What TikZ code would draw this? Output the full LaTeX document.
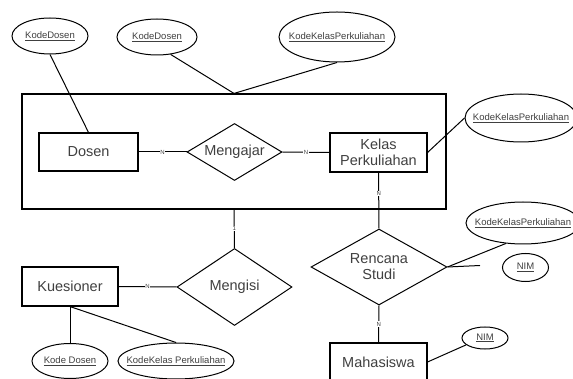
\documentclass[tikz,border=0pt]{standalone}
\usepackage{fontspec}
\setmainfont{Liberation Sans}
\usetikzlibrary{shapes.geometric}
\begin{document}
\begin{tikzpicture}[x=1pt,y=-1pt,
  every node/.style={text=black!75},
  entity/.style={draw=black,line width=1.1pt,rectangle,inner sep=0pt,font=\fontsize{14.5}{16}\selectfont,align=center},
  rel/.style={draw=black,line width=1pt,diamond,inner sep=0pt,font=\fontsize{14.5}{16}\selectfont,align=center},
  attr/.style={draw=black,line width=1pt,ellipse,inner sep=0pt,font=\fontsize{9.5}{11}\selectfont},
  longattr/.style={attr,inner xsep=-10pt},
  conn/.style={draw=black,line width=1pt},
  card/.style={fill=white,inner sep=0.5pt,font=\fontsize{6}{7}\selectfont}]
\clip (0,0) rectangle (573,379);
\fill[white] (0,0) rectangle (573,379);
% aggregation box
\node[draw=black,line width=1.1pt,rectangle,minimum width=424pt,minimum height=115pt,inner sep=0pt] (agg) at (234,151.5) {};
% entities
\node[entity,minimum width=99pt,minimum height=38pt] (dosen) at (88.5,152) {Dosen};
\node[entity,minimum width=97pt,minimum height=39pt] (kelas) at (378.5,152.5) {Kelas\\Perkuliahan};
\node[entity,minimum width=96pt,minimum height=39pt] (kues) at (70,286.5) {Kuesioner};
\node[entity,minimum width=97pt,minimum height=50pt] (mhs) at (378.5,368) {};
\node[text=black!75,font=\fontsize{14.5}{16}\selectfont] (mhst) at (378.5,362) {Mahasiswa};
% relationships
\node[rel,minimum width=95pt,minimum height=57pt,shape aspect=1.67] (ajar) at (234.5,152) {Mengajar};
\node[rel,minimum width=136pt,minimum height=76pt,shape aspect=1.79] (rs) at (379,267) {Rencana\\Studi};
\node[rel,minimum width=115pt,minimum height=77pt,shape aspect=1.49] (isi) at (234.5,287) {Mengisi};
% attributes
\node[attr,minimum width=76pt,minimum height=36pt] (a1) at (50,36) {\underline{KodeDosen}};
\node[attr,minimum width=80pt,minimum height=36pt] (a2) at (157,37) {\underline{KodeDosen}};
\node[longattr,minimum width=116pt,minimum height=50pt] (a3) at (337,37) {\underline{KodeKelasPerkuliahan}};
\node[longattr,minimum width=112pt,minimum height=48pt] (a4) at (521,118) {\underline{KodeKelasPerkuliahan}};
\node[longattr,minimum width=114pt,minimum height=42pt] (a5) at (523,223) {\underline{KodeKelasPerkuliahan}};
\node[attr,minimum width=46pt,minimum height=28pt] (a6) at (525.5,267.5) {\underline{NIM}};
\node[attr,minimum width=46pt,minimum height=22pt] (a7) at (485,338) {\underline{NIM}};
\node[attr,minimum width=76pt,minimum height=35pt] (a8) at (70,361) {\underline{Kode Dosen}};
\node[longattr,minimum width=116pt,minimum height=36pt] (a9) at (176,361) {\underline{KodeKelas Perkuliahan}};
\coordinate (free) at (480,265.5);
% connectors
\draw[conn] (a1.south) -- (dosen.north);
\draw[conn] (a2.-52) -- (agg.north);
\draw[conn] (a3.south) -- (agg.north);
\draw[conn] (dosen.east) -- node[card] {N} (ajar.west);
\draw[conn] (ajar.east) -- node[card] {N} (kelas.west);
\draw[conn] (kelas.east) -- (a4.west);
\draw[conn] (kelas.south) -- node[card,pos=0.37] {N} (rs.north);
\draw[conn] (rs.east) -- (a5.-130);
\draw[conn] (rs.east) -- (free);
\draw[conn] (rs.south) -- node[card] {N} (mhs.north);
\draw[conn] (mhs.east |- mhst) -- (a7.200);
\draw[conn] (agg.south) -- node[card] {1} (isi.north);
\draw[conn] (kues.east) -- node[card] {N} (isi.west);
\draw[conn] (kues.south) -- (a8.north);
\draw[conn] (kues.south) -- (a9.north);
\end{tikzpicture}
\end{document}
